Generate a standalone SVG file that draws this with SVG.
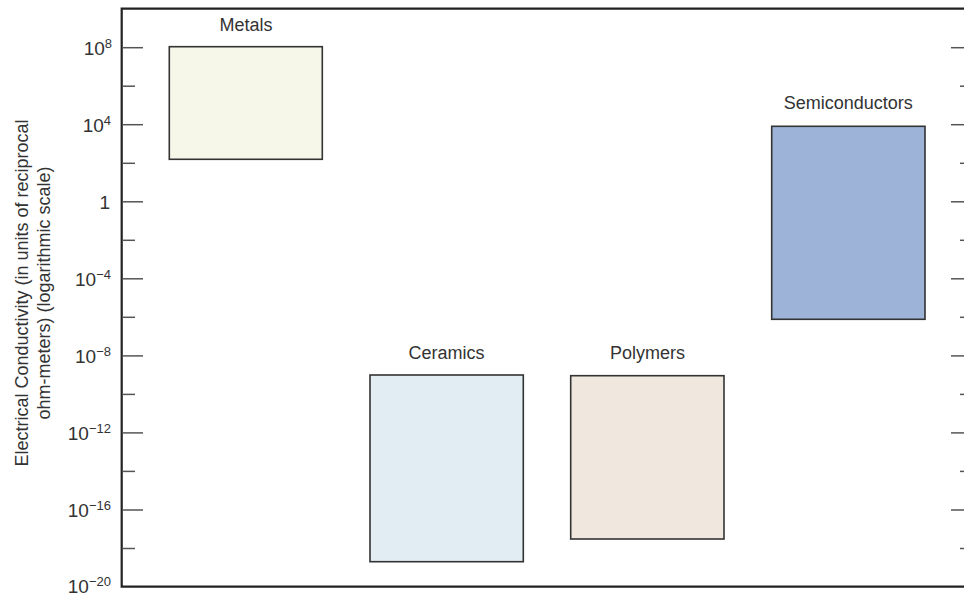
<svg xmlns="http://www.w3.org/2000/svg" width="964" height="597" viewBox="0 0 964 597">
<style>
text{font-family:"Liberation Sans",Arial,sans-serif;fill:#333;}
.lbl{font-size:18px;text-anchor:middle;}
.num{font-size:19px;text-anchor:end;}
.sup{font-size:13px;}
.box{stroke:#333;stroke-width:1.6;}
.axis{stroke:#222;stroke-width:2.2;fill:none;}
.tick{stroke:#555;stroke-width:1.5;}
</style>
<rect width="964" height="597" fill="#fff"/>
<g id="axes">
<path class="axis" d="M964 8.7 H121.7 V586.7 H964"/>
<g id="left-ticks">
<line class="tick" x1="122" y1="47.7" x2="143" y2="47.7"/>
<line class="tick" x1="122" y1="86.2" x2="135" y2="86.2"/>
<line class="tick" x1="122" y1="124.7" x2="143" y2="124.7"/>
<line class="tick" x1="122" y1="163.3" x2="135" y2="163.3"/>
<line class="tick" x1="122" y1="201.8" x2="143" y2="201.8"/>
<line class="tick" x1="122" y1="240.3" x2="135" y2="240.3"/>
<line class="tick" x1="122" y1="278.8" x2="143" y2="278.8"/>
<line class="tick" x1="122" y1="317.3" x2="135" y2="317.3"/>
<line class="tick" x1="122" y1="355.9" x2="143" y2="355.9"/>
<line class="tick" x1="122" y1="394.4" x2="135" y2="394.4"/>
<line class="tick" x1="122" y1="432.9" x2="143" y2="432.9"/>
<line class="tick" x1="122" y1="471.4" x2="135" y2="471.4"/>
<line class="tick" x1="122" y1="510.0" x2="143" y2="510.0"/>
<line class="tick" x1="122" y1="548.5" x2="135" y2="548.5"/>
</g>
<g id="right-ticks">
<line class="tick" x1="951" y1="47.7" x2="964" y2="47.7"/>
<line class="tick" x1="960" y1="86.2" x2="964" y2="86.2"/>
<line class="tick" x1="951" y1="124.7" x2="964" y2="124.7"/>
<line class="tick" x1="960" y1="163.3" x2="964" y2="163.3"/>
<line class="tick" x1="951" y1="201.8" x2="964" y2="201.8"/>
<line class="tick" x1="960" y1="240.3" x2="964" y2="240.3"/>
<line class="tick" x1="951" y1="278.8" x2="964" y2="278.8"/>
<line class="tick" x1="960" y1="317.3" x2="964" y2="317.3"/>
<line class="tick" x1="951" y1="355.9" x2="964" y2="355.9"/>
<line class="tick" x1="960" y1="394.4" x2="964" y2="394.4"/>
<line class="tick" x1="951" y1="432.9" x2="964" y2="432.9"/>
<line class="tick" x1="960" y1="471.4" x2="964" y2="471.4"/>
<line class="tick" x1="951" y1="510.0" x2="964" y2="510.0"/>
<line class="tick" x1="960" y1="548.5" x2="964" y2="548.5"/>
</g>
<g id="tick-labels">
<text class="num" x="112" y="54.5">10<tspan class="sup" dy="-7">8</tspan></text>
<text class="num" x="111" y="131.5">10<tspan class="sup" dy="-7">4</tspan></text>
<text class="num" x="110" y="208.6">1</text>
<text class="num" x="111" y="285.6">10<tspan class="sup" dy="-7">−4</tspan></text>
<text class="num" x="111" y="362.7">10<tspan class="sup" dy="-7">−8</tspan></text>
<text class="num" x="111" y="439.7">10<tspan class="sup" dy="-7">−12</tspan></text>
<text class="num" x="111" y="516.8">10<tspan class="sup" dy="-7">−16</tspan></text>
<text class="num" x="111" y="593">10<tspan class="sup" dy="-7">−20</tspan></text>
</g>
<g id="y-title" transform="translate(0,293) rotate(-90)">
<text class="lbl" x="0" y="28">Electrical Conductivity (in units of reciprocal</text>
<text class="lbl" x="0" y="50">ohm-meters) (logarithmic scale)</text>
</g>
</g>
<g id="metals">
<rect class="box" x="169.3" y="46.7" width="153" height="112.6" fill="#f6f6e9"/>
<text class="lbl" x="246" y="30.7">Metals</text>
</g>
<g id="semiconductors">
<rect class="box" x="771.7" y="126.3" width="153.3" height="193" fill="#9db3d8"/>
<text class="lbl" x="848.3" y="109.3">Semiconductors</text>
</g>
<g id="ceramics">
<rect class="box" x="370" y="375" width="153.3" height="186.7" fill="#e1ecf3"/>
<text class="lbl" x="446.5" y="359.3">Ceramics</text>
</g>
<g id="polymers">
<rect class="box" x="570.7" y="375.7" width="153.3" height="163.3" fill="#f0e8de"/>
<text class="lbl" x="647.4" y="359.3">Polymers</text>
</g>
<g id="connectors"/>
</svg>
